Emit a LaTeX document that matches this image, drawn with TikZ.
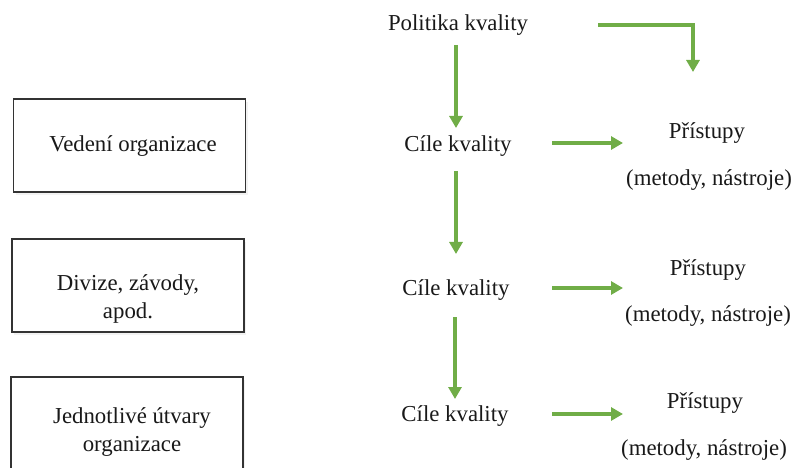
\documentclass[tikz,border=0pt]{standalone}
\usepackage{fontspec}
\setmainfont{Liberation Serif}
\usetikzlibrary{arrows.meta,shadows}
\definecolor{arrgreen}{HTML}{70AD47}
\definecolor{boxline}{HTML}{333333}
\tikzset{
  lbl/.style={inner sep=0pt, font=\fontsize{22.8}{28}\selectfont, text=black!90, align=center},
  orgbox/.style={draw=boxline, line width=1.6pt, fill=white, inner sep=0pt,
    minimum width=232pt, minimum height=93pt,
    drop shadow={shadow xshift=2pt, shadow yshift=-3pt, opacity=0.10}},
  arr/.style={draw=arrgreen, line width=3.5pt, -{Triangle[width=13pt,length=12pt]}}
}
\begin{document}
\begin{tikzpicture}[x=1pt,y=-1pt]
\useasboundingbox (0,0) rectangle (796,468);
\clip (0,0) rectangle (796,468);
% boxes
\node[orgbox] (b1) at (129.5,145.5) {};
\node[orgbox] (b2) at (128,285.5) {};
\node[orgbox] (b3) at (127,423.5) {};
\node[lbl] (t1) at (133,146) {Vedení organizace};
\node[lbl] (t2) at (128,299) {Divize, závody,\\apod.};
\node[lbl] (t3) at (132,432) {Jednotlivé útvary\\organizace};
% middle column
\node[lbl] (pol) at (458,25) {Politika kvality};
\node[lbl] (c1) at (458,146) {Cíle kvality};
\node[lbl] (c2) at (456,290) {Cíle kvality};
\node[lbl] (c3) at (455,416) {Cíle kvality};
% right column
\node[lbl] (p1) at (707,133) {Přístupy};
\node[lbl] (m1) at (709,180) {(metody, nástroje)};
\node[lbl] (p2) at (708,270) {Přístupy};
\node[lbl] (m2) at (708,316) {(metody, nástroje)};
\node[lbl] (p3) at (705,403) {Přístupy};
\node[lbl] (m3) at (704,450) {(metody, nástroje)};
\coordinate (bend) at (693,72);
% vertical arrows
\draw[arr] ([xshift=-2pt,yshift=-20pt]pol.center) -- ([xshift=-2pt,yshift=18pt]c1.center);
\draw[arr] ([xshift=-2pt,yshift=-25pt]c1.center) -- ([yshift=36pt]c2.center);
\draw[arr] ([xshift=-1pt,yshift=-27pt]c2.center) -- ([yshift=17pt]c3.center);
% horizontal arrows
\draw[arr] ([xshift=94pt,yshift=3pt]c1.center) -- ([xshift=165pt,yshift=3pt]c1.center);
\draw[arr] ([xshift=96pt,yshift=2pt]c2.center) -- ([xshift=167pt,yshift=2pt]c2.center);
\draw[arr] ([xshift=97pt,yshift=2pt]c3.center) -- ([xshift=168pt,yshift=2pt]c3.center);
% bent arrow
\draw[arr] ([xshift=140pt]pol.center) -| (bend);
\end{tikzpicture}
\end{document}
